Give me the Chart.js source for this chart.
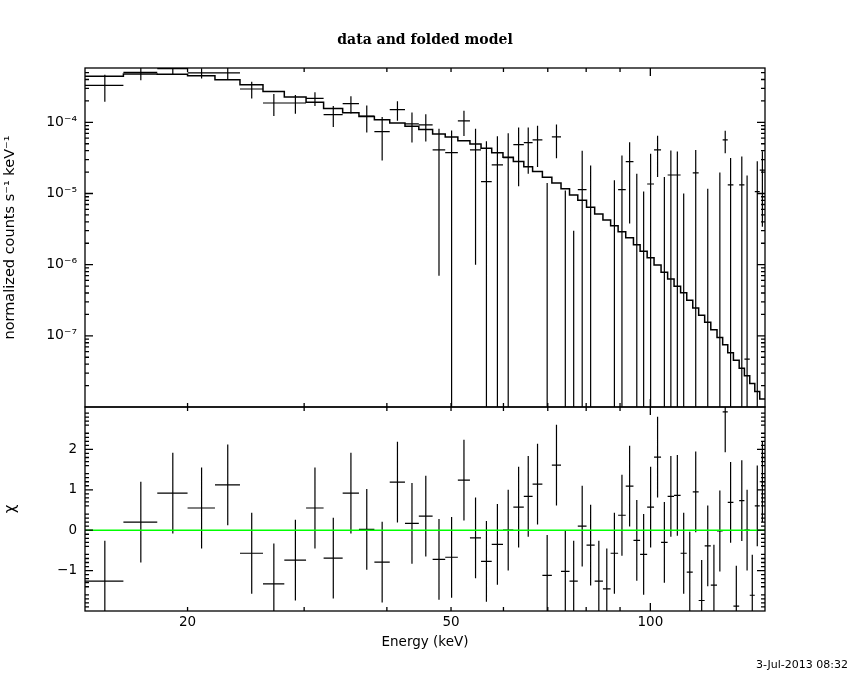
<!DOCTYPE html>
<html><head><meta charset="utf-8">
<script src="https://cdn.jsdelivr.net/npm/chart.js@4.4.1/dist/chart.umd.min.js"></script>
<style>
html,body{margin:0;padding:0;background:#fff;}
#wrap{position:relative;width:850px;height:680px;background:#fff;overflow:hidden;}
#top{position:absolute;left:0;top:0;}
#bot{position:absolute;left:0;top:390px;}
</style></head><body>
<div id="wrap"><canvas id="top" width="850" height="430"></canvas><canvas id="bot" width="850" height="290"></canvas></div>
<script>
// ---- data ----
const energyEdges = [14.0, 16.0, 18.0, 20.0, 22.0, 24.0, 26.0, 28.0, 30.2, 32.1, 34.3, 36.3, 38.3, 40.4, 42.6, 44.7, 46.9, 49.0, 51.2, 53.4, 55.5, 57.6, 59.9, 62.1, 64.4, 66.4, 68.7, 71.0, 73.3, 75.5, 77.7, 80.1, 82.4, 84.8, 87.1, 89.4, 91.8, 94.3, 96.5, 98.9, 101.3, 103.8, 106.2, 108.6, 111.1, 113.5, 115.9, 118.3, 120.8, 123.4, 126.1, 128.6, 130.9, 133.5, 136.2, 138.7, 141.3, 143.8, 146.3, 149.0];
const modelRate = [4.43e-4, 4.78e-4, 4.72e-4, 4.53e-4, 3.97e-4, 3.38e-4, 2.72e-4, 2.27e-4, 1.91e-4, 1.57e-4, 1.36e-4, 1.21e-4, 1.09e-4, 9.8e-5, 8.8e-5, 7.9e-5, 6.87e-5, 6.24e-5, 5.53e-5, 4.97e-5, 4.31e-5, 3.75e-5, 3.22e-5, 2.81e-5, 2.37e-5, 2.03e-5, 1.69e-5, 1.41e-5, 1.17e-5, 9.55e-6, 8.02e-6, 6.4e-6, 5.17e-6, 4.25e-6, 3.51e-6, 2.89e-6, 2.38e-6, 1.90e-6, 1.54e-6, 1.25e-6, 9.9e-7, 7.8e-7, 6.3e-7, 4.98e-7, 4.02e-7, 3.16e-7, 2.47e-7, 1.95e-7, 1.55e-7, 1.22e-7, 9.45e-8, 7.47e-8, 5.77e-8, 4.54e-8, 3.51e-8, 2.74e-8, 2.14e-8, 1.65e-8, 1.30e-8];
const dataRate = [3.3e-4, 5.04e-4, 5.67e-4, 4.94e-4, 4.94e-4, 2.94e-4, 1.87e-4, 1.87e-4, 2.17e-4, 1.28e-4, 1.83e-4, 1.22e-4, 7.4e-5, 1.51e-4, 9.5e-5, 9.2e-5, 4.1e-5, 3.75e-5, 1.05e-4, 4.1e-5, 1.47e-5, 2.52e-5, 3.2e-5, 4.86e-5, 5.19e-5, 5.66e-5, -1.2e-5, 6.24e-5, -1.9e-5, -2.2e-5, 1.13e-5, -4.3e-6, -3.0e-5, -3.6e-5, -1.21e-5, 1.13e-5, 2.81e-5, -3.8e-6, -1.2e-5, 1.36e-5, 4.1e-5, -6.2e-6, 1.82e-5, 1.82e-5, -1.23e-5, -2.26e-5, 1.95e-5, -3.6e-5, -7.2e-6, -2.7e-5, -3e-7, 5.66e-5, 1.32e-5, -3.4e-5, 1.32e-5, 4.7e-8, -2.9e-5, 1.06e-5, 2.13e-5];
const dataErr = [1.35e-4, 1.15e-4, 1.0e-4, 0.8e-4, 0.87e-4, 0.77e-4, 0.64e-4, 0.55e-4, 0.48e-4, 0.42e-4, 0.5e-4, 0.5e-4, 0.45e-4, 0.46e-4, 0.43e-4, 0.38e-4, 4.03e-5, 3.9e-5, 4.1e-5, 4.0e-5, 3.94e-5, 3.84e-5, 3.8e-5, 3.6e-5, 3.3e-5, 3.3e-5, 2.6e-5, 3.1e-5, 3.0e-5, 2.5e-5, 2.87e-5, 2.9e-5, 2.8e-5, 2.8e-5, 2.74e-5, 2.28e-5, 2.43e-5, 2.28e-5, 2.27e-5, 2.27e-5, 2.4e-5, 2.33e-5, 2.2e-5, 2.06e-5, 2.23e-5, 2.2e-5, 2.15e-5, 2.1e-5, 1.89e-5, 2.0e-5, 2.0e-5, 1.98e-5, 1.84e-5, 1.8e-5, 1.98e-5, 1.78e-5, 1.8e-5, 1.77e-5, 1.79e-5];
const chiValues = [-1.26, 0.20, 0.92, 0.55, 1.12, -0.57, -1.33, -0.74, 0.55, -0.69, 0.92, 0.02, -0.79, 1.19, 0.17, 0.35, -0.72, -0.67, 1.24, -0.19, -0.77, -0.35, 0.0, 0.57, 0.84, 1.14, -1.12, 1.61, -1.02, -1.26, 0.10, -0.37, -1.26, -1.45, -0.57, 0.37, 1.09, -0.25, -0.60, 0.57, 1.81, -0.30, 0.84, 0.86, -0.57, -1.04, 0.95, -1.74, -0.39, -1.36, -0.02, 2.93, 0.69, -1.88, 0.73, 0.0, -1.61, 0.60, 1.20];

const xRange = [14, 149];
const rateRange = [1e-8, 5.8e-4];
const chiRange = [-2, 3.05];
const xTickLabels = [20, 50, 100];
const rateTickValues = [1e-7, 1e-6, 1e-5, 1e-4];
const rateTickLabels = ['10\u207B\u2077', '10\u207B\u2076', '10\u207B\u2075', '10\u207B\u2074'];
const chiTickValues = [-1, 0, 1, 2];
const chiTickLabels = ['\u22121', '0', '1', '2'];
const titleText = 'data and folded model';
const rateAxisTitle = 'normalized counts s\u207B\u00B9 keV\u207B\u00B9';
const chiAxisTitle = '\u03C7';
const energyAxisTitle = 'Energy (keV)';
const stampText = '3-Jul-2013 08:32';

// ---- build library datasets ----
const nb = modelRate.length;
const modelPts = [];
for (let i = 0; i < nb; i++) modelPts.push({x: energyEdges[i], y: modelRate[i]});
modelPts.push({x: energyEdges[nb], y: modelRate[nb - 1]});

const dataH = [], dataV = [], chiH = [], chiV = [];
for (let i = 0; i < nb; i++) {
  const lo = energyEdges[i], hi = energyEdges[i + 1], c = (lo + hi) / 2;
  const d = dataRate[i], e = dataErr[i];
  if (d > 0) dataH.push({x: lo, y: d}, {x: hi, y: d}, {x: hi, y: null});
  if (d + e > 0) dataV.push({x: c, y: (d - e > 0) ? d - e : 1e-12}, {x: c, y: d + e}, {x: c, y: null});
  const k = chiValues[i];
  chiH.push({x: lo, y: k}, {x: hi, y: k}, {x: hi, y: null});
  chiV.push({x: c, y: k - 1}, {x: c, y: k + 1}, {x: c, y: null});
}
const zeroLine = [{x: xRange[0], y: 0}, {x: xRange[1], y: 0}];

// tick mark positions (axis styling)
const xMinorTicks = [20, 30, 40, 50, 60, 70, 80, 90];
const xMajorTicks = [100];
const rateMajorTicks = [1e-7, 1e-6, 1e-5, 1e-4];
const rateMinorTicks = [];
for (let p = -8; p <= -4; p++) for (let m = 2; m <= 9; m++) { const v = m * Math.pow(10, p); if (v < rateRange[1]) rateMinorTicks.push(v); }
const chiMajorTicks = [-1, 0, 1, 2];
const chiMinorTicks = [];
for (let t = -19; t <= 30; t++) { if (t % 5 !== 0) chiMinorTicks.push(t / 10); }

const framePlugin = {
  id: 'frameTicks',
  afterDatasetsDraw(chart, args, opts) {
    const {ctx, chartArea: a, scales} = chart;
    const xs = scales.x, ys = scales.y;
    ctx.save();
    ctx.strokeStyle = '#000';
    ctx.lineWidth = 1.3;
    ctx.beginPath();
    const xt = (list, len) => list.forEach(v => {
      const px = xs.getPixelForValue(v);
      ctx.moveTo(px, a.bottom); ctx.lineTo(px, a.bottom - len);
      ctx.moveTo(px, a.top); ctx.lineTo(px, a.top + len);
    });
    const yt = (list, len) => list.forEach(v => {
      const py = ys.getPixelForValue(v);
      if (py < a.top || py > a.bottom) return;
      ctx.moveTo(a.left, py); ctx.lineTo(a.left + len, py);
      ctx.moveTo(a.right, py); ctx.lineTo(a.right - len, py);
    });
    xt(xMinorTicks, 4); xt(xMajorTicks, 8);
    yt(opts.yMinor, 4); yt(opts.yMajor, 8);
    ctx.stroke();
    ctx.strokeRect(a.left, a.top, a.right - a.left, a.bottom - a.top);
    ctx.restore();
  }
};
const textPlugin = {
  id: 'texts',
  afterDraw(chart, args, opts) {
    const ctx = chart.ctx;
    (opts.items || []).forEach(t => {
      ctx.save();
      ctx.font = t.font;
      ctx.fillStyle = '#000';
      ctx.textAlign = t.align;
      ctx.textBaseline = 'middle';
      ctx.fillText(t.text, t.x, t.y);
      ctx.restore();
    });
  }
};

const axisFont = {family: 'DejaVu Sans', size: 13.5};
const line = (data, color, w, extra) => Object.assign({data, borderColor: color, borderWidth: w, pointRadius: 0, pointHoverRadius: 0, fill: false, spanGaps: false, tension: 0}, extra || {});

new Chart(document.getElementById('top'), {
  type: 'line',
  data: {datasets: [
    line(modelPts, '#000', 1.5, {stepped: true}),
    line(dataH, '#000', 1.2),
    line(dataV, '#000', 1.2)
  ]},
  options: {
    responsive: false, animation: false, devicePixelRatio: 1,
    layout: {padding: {left: 0, right: 85, top: 68, bottom: 23}},
    plugins: {
      legend: {display: false}, tooltip: {enabled: false}, title: {display: false},
      frameTicks: {yMinor: rateMinorTicks, yMajor: rateMajorTicks},
      texts: {items: [{text: titleText, x: 425, y: 40, align: 'center', font: 'bold 14px "DejaVu Serif"'}]}
    },
    scales: {
      x: {type: 'logarithmic', min: xRange[0], max: xRange[1], display: false},
      y: {type: 'logarithmic', min: rateRange[0], max: rateRange[1], position: 'left',
        afterFit(s) { s.width = 85; },
        afterBuildTicks(s) { s.ticks = rateTickValues.map(v => ({value: v})); },
        ticks: {autoSkip: false, color: '#000', font: {family: 'DejaVu Sans', size: 14}, padding: 8,
          callback: (v) => { const i = rateTickValues.indexOf(v); return i >= 0 ? rateTickLabels[i] : ''; }},
        grid: {display: false, drawTicks: false}, border: {display: false},
        title: {display: true, text: rateAxisTitle, color: '#000', font: {family: 'DejaVu Sans', size: 14.5}, padding: {top: 2, bottom: 0}}
      }
    }
  },
  plugins: [framePlugin, textPlugin]
});

new Chart(document.getElementById('bot'), {
  type: 'line',
  data: {datasets: [
    line(zeroLine, '#00ff00', 1.5),
    line(chiH, '#000', 1.2),
    line(chiV, '#000', 1.2)
  ]},
  options: {
    responsive: false, animation: false, devicePixelRatio: 1,
    layout: {padding: {left: 0, right: 85, top: 17, bottom: 0}},
    plugins: {
      legend: {display: false}, tooltip: {enabled: false},
      frameTicks: {yMinor: chiMinorTicks, yMajor: chiMajorTicks},
      texts: {items: [{text: stampText, x: 848, y: 275, align: 'right', font: '11px "DejaVu Sans"'}]}
    },
    scales: {
      x: {type: 'logarithmic', min: xRange[0], max: xRange[1], position: 'bottom',
        afterFit(s) { s.height = 69; },
        afterBuildTicks(s) { s.ticks = xTickLabels.map(v => ({value: v})); },
        ticks: {autoSkip: false, maxRotation: 0, color: '#000', font: axisFont, padding: 3,
          callback: (v) => String(v)},
        grid: {display: false, drawTicks: false}, border: {display: false},
        title: {display: true, text: energyAxisTitle, color: '#000', font: axisFont, padding: {top: 0, bottom: 29}}
      },
      y: {type: 'linear', min: chiRange[0], max: chiRange[1], position: 'left',
        afterFit(s) { s.width = 85; },
        afterBuildTicks(s) { s.ticks = chiTickValues.map(v => ({value: v})); },
        ticks: {autoSkip: false, color: '#000', font: axisFont, padding: 8,
          callback: (v) => { const i = chiTickValues.indexOf(v); return i >= 0 ? chiTickLabels[i] : ''; }},
        grid: {display: false, drawTicks: false}, border: {display: false},
        title: {display: true, text: chiAxisTitle, color: '#000', font: {family: 'DejaVu Sans', size: 15}, padding: {top: 2, bottom: 0}}
      }
    }
  },
  plugins: [framePlugin, textPlugin]
});
</script>
</body></html>
